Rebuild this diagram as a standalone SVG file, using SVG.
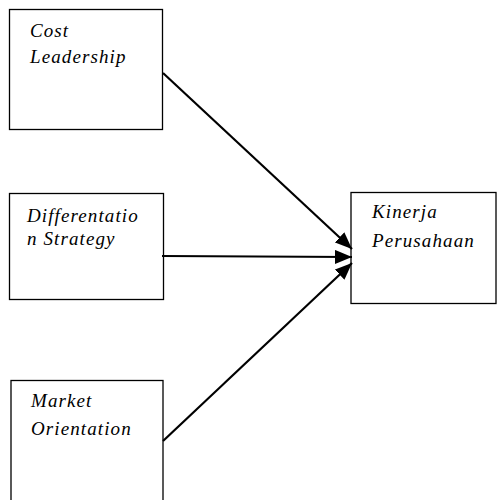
<svg xmlns="http://www.w3.org/2000/svg" width="497" height="500" viewBox="0 0 497 500">
<style>
.box{fill:#fff;stroke:#000;stroke-width:1.3}
.lbl{font-family:"Liberation Serif","Times New Roman",serif;font-style:italic;font-size:19px;letter-spacing:1.1px;fill:#000}
.con{stroke:#000;stroke-width:2.2;fill:none}
</style>
<defs>
<marker id="ah" markerUnits="userSpaceOnUse" markerWidth="18" markerHeight="14" refX="17" refY="7" orient="auto" viewBox="0 0 18 14">
<path d="M0,0 L17,7 L0,14 Z" fill="#000"/>
</marker>
</defs>
<rect width="497" height="500" fill="#fff"/>
<g id="cost">
<rect class="box" x="9.5" y="9.5" width="153" height="120"/>
<text class="lbl" x="30" y="37">Cost</text>
<text class="lbl" x="30" y="63">Leadership</text>
</g>
<g id="diff">
<rect class="box" x="9.5" y="193.5" width="154" height="106"/>
<text class="lbl" x="27" y="222">Differentatio</text>
<text class="lbl" x="27" y="245">n Strategy</text>
</g>
<g id="market">
<rect class="box" x="11" y="380.5" width="152" height="130"/>
<text class="lbl" x="31" y="407">Market</text>
<text class="lbl" x="31" y="435">Orientation</text>
</g>
<g id="kinerja">
<rect class="box" x="351" y="192.5" width="145" height="111"/>
<text class="lbl" x="372" y="218">Kinerja</text>
<text class="lbl" x="372" y="247">Perusahaan</text>
</g>
<g id="connectors">
<line class="con" x1="163" y1="73" x2="352" y2="249" marker-end="url(#ah)"/>
<line class="con" x1="162" y1="256" x2="352" y2="257" marker-end="url(#ah)"/>
<line class="con" x1="163" y1="441" x2="352" y2="263" marker-end="url(#ah)"/>
</g>
</svg>
